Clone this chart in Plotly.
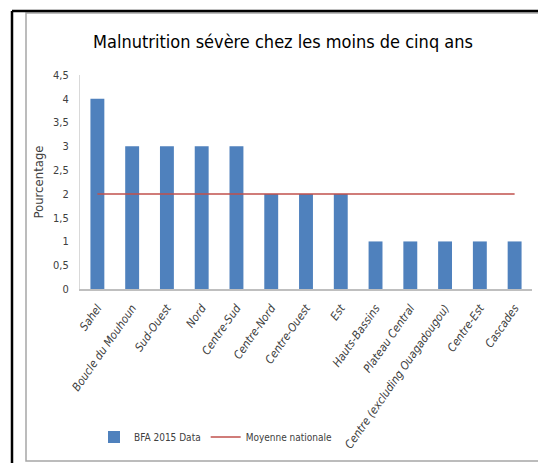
import plotly.graph_objects as go

categories = ["Sahel", "Boucle du Mouhoun", "Sud-Ouest", "Nord", "Centre-Sud",
              "Centre-Nord", "Centre-Ouest", "Est", "Hauts-Bassins", "Plateau Central",
              "Centre (excluding Ouagadougou)", "Centre-Est", "Cascades"]
bfa_values = [4, 3, 3, 3, 3, 2, 2, 2, 1, 1, 1, 1, 1]
national_avg = [2] * len(categories)
y_ticks = [0, 0.5, 1, 1.5, 2, 2.5, 3, 3.5, 4, 4.5]
y_tick_labels = ["0", "0,5", "1", "1,5", "2", "2,5", "3", "3,5", "4", "4,5"]

FONT = "DejaVu Sans Condensed, Liberation Sans Narrow, sans-serif"

fig = go.Figure()
fig.add_trace(go.Bar(x=categories, y=bfa_values, name="BFA 2015 Data",
                     marker=dict(color="#4F81BD", line=dict(width=0))))
fig.add_trace(go.Scatter(x=categories, y=national_avg, name="Moyenne nationale",
                         mode="lines", line=dict(color="#C0504D", width=1.5)))

L, R, T, B = 80, 6, 75, 174
W, H = 538, 463
pw, ph = W - L - R, H - T - B

def px(x):
    return (x - L) / pw

def py(y):
    return (H - B - y) / ph

shapes = [
    dict(type="rect", xref="paper", yref="paper", x0=px(26), x1=px(560), y0=py(461), y1=py(13),
         line=dict(color="#A6A6A6", width=1.5), fillcolor="rgba(0,0,0,0)", layer="below"),
    dict(type="line", xref="paper", yref="paper", x0=px(12), x1=px(12), y0=py(470), y1=py(11),
         line=dict(color="black", width=2.5)),
    dict(type="line", xref="paper", yref="paper", x0=px(12), x1=px(560), y0=py(11), y1=py(11),
         line=dict(color="black", width=2.5)),
]

fig.update_layout(
    width=W, height=H,
    margin=dict(l=L, r=R, t=T, b=B),
    paper_bgcolor="white", plot_bgcolor="white",
    font=dict(family=FONT, color="#404040"),
    title=dict(text="Malnutrition sévère chez les moins de cinq ans",
               x=px(283), xref="paper", xanchor="center",
               y=1 - 42 / H, yanchor="middle",
               font=dict(size=18, color="black", family=FONT)),
    bargap=0.6,
    showlegend=True,
    legend=dict(orientation="h", x=px(94), xanchor="left", y=py(437), yanchor="middle",
                font=dict(size=10, color="#404040", family=FONT),
                bgcolor="rgba(0,0,0,0)", itemwidth=30, tracegroupgap=0),
    shapes=shapes,
)
fig.update_xaxes(showline=True, linecolor="#BFBFBF", linewidth=1.5, showgrid=False,
                 tickangle=-55, tickfont=dict(size=11.5, family=FONT, style="italic", color="#404040"),
                 ticks="", range=[-0.5, 12.5], ticklabelstandoff=6)
fig.update_yaxes(range=[0, 4.5], tickvals=y_ticks, ticktext=y_tick_labels,
                 showline=True, linecolor="#D9D9D9", linewidth=1, showgrid=False,
                 zeroline=False, ticks="", tickfont=dict(size=11, family=FONT, color="#404040"),
                 ticklabelstandoff=8,
                 title=dict(text="Pourcentage", font=dict(size=13, family=FONT, color="#404040"),
                            standoff=6))

fig.write_html("out.html", config={"displayModeBar": False},
               post_script="document.body.style.margin='0';document.body.style.padding='0';")
